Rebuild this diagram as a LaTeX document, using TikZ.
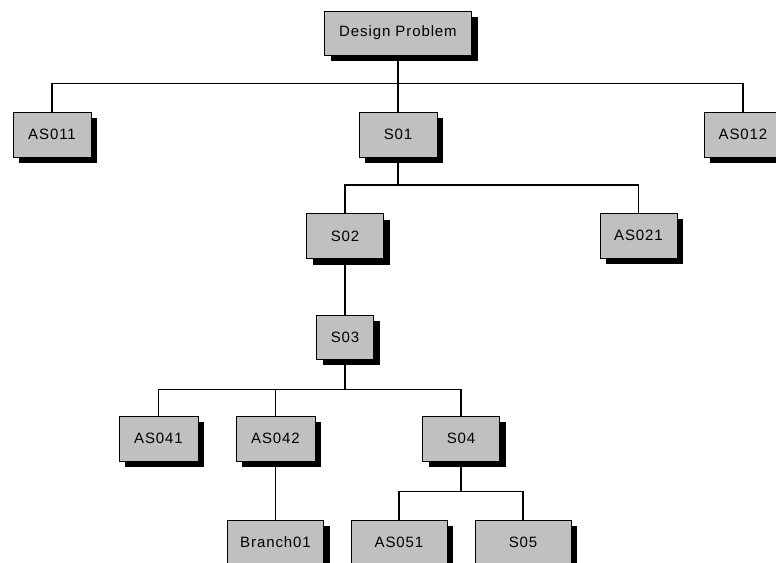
\documentclass[tikz,border=0pt]{standalone}
\usepackage{fontspec}
\newfontfamily\genevafont[LetterSpace=6]{Liberation Sans}
\usepackage{xcolor}
\usepackage{tikz}
\usetikzlibrary{shadows}
\definecolor{boxgray}{RGB}{192,192,192}

\begin{document}
\begin{tikzpicture}[x=1pt,y=-1pt,line width=1.2pt,
  font=\genevafont\fontsize{15}{18}\selectfont,
  sbox/.style={draw=black,line width=1pt,fill=boxgray,minimum height=45pt,inner sep=0pt,
    drop shadow={shadow xshift=6pt,shadow yshift=-6pt,fill=black,opacity=1}}]
\clip (0,0) rectangle (776,562);
% level 0 and 1
\node[sbox,minimum width=147pt,minimum height=44pt] (dp) at (398,33) {Design Problem};
\node[sbox,minimum width=78pt] (as011) at (52,134.5) {AS011};
\node[sbox,minimum width=78pt] (s01) at (398,134.5) {S01};
\node[sbox,minimum width=78pt] (as012) at (743,134.5) {AS012};
% level 2 and 3
\node[sbox,minimum width=77pt] (s02) at (345,236) {S02};
\node[sbox,minimum width=77pt] (as021) at (638.5,235.5) {AS021};
\node[sbox,minimum width=57pt,minimum height=44pt] (s03) at (345,337) {S03};
% level 4
\node[sbox,minimum width=79pt] (as041) at (158.5,438.5) {AS041};
\node[sbox,minimum width=79pt] (as042) at (275.5,438.5) {AS042};
\node[sbox,minimum width=77pt] (s04) at (461,438.5) {S04};
% level 5
\node[sbox,minimum width=96pt] (br01) at (275.5,542.5) {Branch01};
\node[sbox,minimum width=96pt] (as051) at (399,542.5) {AS051};
\node[sbox,minimum width=96pt] (s05) at (523,542.5) {S05};
% connectors
\draw (dp.south) -- ++(0,28) -| (as011.north);
\draw (dp.south) -- ++(0,28) -| (as012.north);
\draw (dp.south) -- (s01.north);
\draw (s01.south) -- ++(0,27.5) -| (s02.north);
\draw (s01.south) -- ++(0,27.5) -| (as021.north);
\draw (s02.south) -- (s03.north);
\draw (s03.south) -- ++(0,30) -| (as041.north);
\draw (s03.south) -- ++(0,30) -| (as042.north);
\draw (s03.south) -- ++(0,30) -| (s04.north);
\draw (as042.south) -- (br01.north);
\draw (s04.south) -- ++(0,30) -| (as051.north);
\draw (s04.south) -- ++(0,30) -| (s05.north);
\end{tikzpicture}
\end{document}
